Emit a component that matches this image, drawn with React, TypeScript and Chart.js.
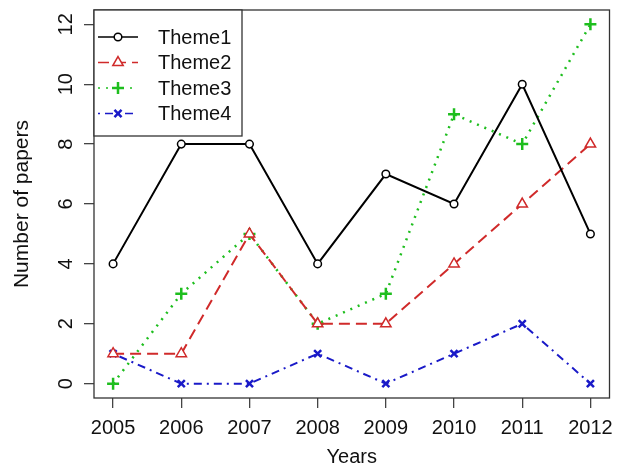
import React, { useEffect, useRef } from 'react';
import { Chart, registerables } from 'chart.js';
import { drawPoint } from 'chart.js/helpers';

Chart.register(...registerables);

const years = [2005, 2006, 2007, 2008, 2009, 2010, 2011, 2012];
const seriesLabels = ['Theme1', 'Theme2', 'Theme3', 'Theme4'];
const theme1 = [4, 8, 8, 4, 7, 6, 10, 5];
const theme2 = [1, 1, 5, 2, 2, 4, 6, 8];
const theme3 = [0, 3, 5, 2, 3, 9, 8, 12];
const theme4 = [1, 0, 0, 1, 0, 1, 2, 0];
const yTicks = [0, 2, 4, 6, 8, 10, 12];

const FONT = "'Liberation Sans', Arial, sans-serif";

export default function App() {
  const ref = useRef<HTMLCanvasElement>(null);

  useEffect(() => {
    if (!ref.current) return;
    const mk = (vals: number[]) => vals.map((v, i) => ({ x: years[i], y: v }));

    const boxPlugin = {
      id: 'rbox',
      afterDatasetsDraw(chart: any) {
        const { ctx, chartArea: a } = chart;
        ctx.save();
        ctx.strokeStyle = '#333';
        ctx.lineWidth = 1.3;
        ctx.setLineDash([]);
        ctx.strokeRect(a.left, a.top, a.right - a.left, a.bottom - a.top);
        ctx.restore();
      },
    };

    const legendPlugin = {
      id: 'rlegend',
      afterDraw(chart: any) {
        const { ctx, chartArea: a } = chart;
        const x0 = a.left;
        const y0 = a.top;
        const w = 148;
        const h = 126;
        ctx.save();
        ctx.fillStyle = '#fff';
        ctx.fillRect(x0, y0, w, h);
        ctx.strokeStyle = '#333';
        ctx.lineWidth = 1.3;
        ctx.strokeRect(x0, y0, w, h);
        chart.data.datasets.forEach((ds: any, i: number) => {
          const y = y0 + 27 + i * 25.5;
          ctx.strokeStyle = ds.borderColor;
          ctx.lineWidth = 1.3;
          ctx.setLineDash(ds.borderDash || []);
          ctx.beginPath();
          ctx.moveTo(x0 + 4, y);
          ctx.lineTo(x0 + 44, y);
          ctx.stroke();
          ctx.setLineDash([]);
          ctx.fillStyle = '#fff';
          ctx.strokeStyle = ds.pointBorderColor;
          ctx.lineWidth = ds.pointBorderWidth;
          drawPoint(ctx, { pointStyle: ds.pointStyle, rotation: 0, radius: ds.pointRadius, borderWidth: ds.pointBorderWidth }, x0 + 24, y);
          ctx.fillStyle = '#111';
          ctx.font = `20px ${FONT}`;
          ctx.textBaseline = 'middle';
          ctx.textAlign = 'left';
          ctx.fillText(ds.label, x0 + 64, y + 1);
        });
        ctx.restore();
      },
    };

    const tickFont = { family: FONT, size: 20 };
    const gridCfg = {
      display: true,
      drawOnChartArea: false,
      drawTicks: true,
      tickLength: 10,
      color: '#444',
      lineWidth: 1.3,
    };
    const zeroPad = (s: any) => {
      s.paddingLeft = 0;
      s.paddingRight = 0;
      s.paddingTop = 0;
      s.paddingBottom = 0;
    };

    const chart = new Chart(ref.current, {
      type: 'line',
      data: {
        datasets: [
          {
            label: seriesLabels[0],
            data: mk(theme1),
            borderColor: '#000',
            borderWidth: 2,
            borderDash: [],
            pointStyle: 'circle',
            pointRadius: 3.8,
            pointBorderWidth: 1.5,
            pointBorderColor: '#000',
            pointBackgroundColor: '#fff',
          },
          {
            label: seriesLabels[1],
            data: mk(theme2),
            borderColor: '#D02A2A',
            borderWidth: 2,
            borderDash: [11, 6],
            pointStyle: 'triangle',
            pointRadius: 6,
            pointBorderWidth: 1.5,
            pointBorderColor: '#D02A2A',
            pointBackgroundColor: '#fff',
          },
          {
            label: seriesLabels[2],
            data: mk(theme3),
            borderColor: '#1EBE1E',
            borderWidth: 2.5,
            borderDash: [2, 6],
            pointStyle: 'cross',
            pointRadius: 6,
            pointBorderWidth: 2.5,
            pointBorderColor: '#1EBE1E',
            pointBackgroundColor: '#fff',
          },
          {
            label: seriesLabels[3],
            data: mk(theme4),
            borderColor: '#1A1AC8',
            borderWidth: 2,
            borderDash: [2, 5, 8, 5],
            pointStyle: 'crossRot',
            pointRadius: 5,
            pointBorderWidth: 2.5,
            pointBorderColor: '#1A1AC8',
            pointBackgroundColor: '#fff',
          },
        ],
      },
      options: {
        responsive: false,
        animation: false,
        layout: { padding: { top: 10, right: 6, left: 0, bottom: 0 } },
        plugins: {
          legend: { display: false },
          tooltip: { enabled: false },
        },
        scales: {
          x: {
            type: 'linear',
            min: 2004.72,
            max: 2012.28,
            afterBuildTicks: (s: any) => {
              s.ticks = years.map((v) => ({ value: v }));
            },
            afterFit: (s: any) => {
              s.height = 69;
              zeroPad(s);
            },
            ticks: {
              font: tickFont,
              color: '#111',
              padding: 8,
              maxRotation: 0,
              autoSkip: false,
              callback: (v: any) => String(v),
            },
            grid: gridCfg,
            border: { display: false },
            title: {
              display: true,
              text: 'Years',
              font: { family: FONT, size: 20, lineHeight: 1 },
              color: '#111',
              padding: { top: 0, bottom: 0 },
            },
          },
          y: {
            type: 'linear',
            min: -0.48,
            max: 12.48,
            afterBuildTicks: (s: any) => {
              s.ticks = yTicks.map((v) => ({ value: v }));
            },
            afterFit: (s: any) => {
              s.width = 94;
              zeroPad(s);
            },
            ticks: {
              font: tickFont,
              color: '#111',
              padding: 6,
              minRotation: 90,
              maxRotation: 90,
              crossAlign: 'center',
              autoSkip: false,
              callback: (v: any) => String(v),
            },
            grid: gridCfg,
            border: { display: false },
            title: {
              display: true,
              text: 'Number of papers',
              font: { family: FONT, size: 21, lineHeight: 1 },
              color: '#111',
              padding: { top: 12, bottom: 0 },
            },
          },
        },
      },
      plugins: [boxPlugin, legendPlugin],
    } as any);

    return () => chart.destroy();
  }, []);

  return (
    <div style={{ position: 'absolute', left: 0, top: 0, width: 618, height: 467, background: '#fff' }}>
      <canvas ref={ref} width={618} height={467} />
    </div>
  );
}
